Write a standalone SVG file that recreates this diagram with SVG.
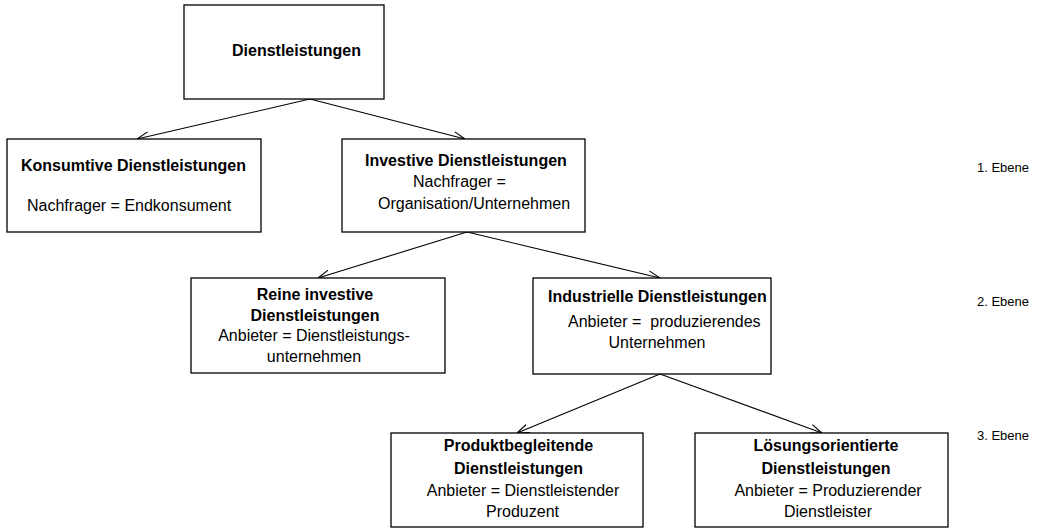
<svg xmlns="http://www.w3.org/2000/svg" width="1057" height="530" viewBox="0 0 1057 530">
<defs>
<marker id="arr" viewBox="0 0 12 10" refX="12" refY="5" markerWidth="12" markerHeight="10" markerUnits="userSpaceOnUse" orient="auto">
<path d="M0,0.5 L12,5 L0,9.5" fill="none" stroke="#000" stroke-width="1.1"/>
</marker>
<style>
.box{fill:#fff;stroke:#000;stroke-width:1.3}
.b{font-family:"Liberation Sans",Arial,sans-serif;font-size:16px;font-weight:bold;fill:#000}
.r{font-family:"Liberation Sans",Arial,sans-serif;font-size:16px;fill:#000}
.c{text-anchor:middle}
.lvl{font-family:"Liberation Sans",Arial,sans-serif;font-size:13px;fill:#000}
.con{fill:none;stroke:#000;stroke-width:1.1;marker-end:url(#arr)}
</style>
</defs>
<rect width="1057" height="530" fill="#fff"/>
<g id="connectors">
<line class="con" x1="310" y1="99" x2="137" y2="139"/>
<line class="con" x1="310" y1="99" x2="465" y2="139"/>
<line class="con" x1="467" y1="232" x2="318" y2="278"/>
<line class="con" x1="467" y1="232" x2="660" y2="278"/>
<line class="con" x1="660" y1="374" x2="517" y2="433"/>
<line class="con" x1="660" y1="374" x2="822" y2="433"/>
</g>
<g id="n-dienstleistungen">
<rect class="box" x="184" y="5" width="200" height="94"/>
<text class="b" x="232" y="56">Dienstleistungen</text>
</g>
<g id="n-konsumtive">
<rect class="box" x="7" y="139" width="254" height="93"/>
<text class="b" x="21" y="171">Konsumtive Dienstleistungen</text>
<text class="r" x="27" y="211">Nachfrager = Endkonsument</text>
</g>
<g id="n-investive">
<rect class="box" x="342" y="139" width="243" height="93"/>
<text class="b" x="365" y="166">Investive Dienstleistungen</text>
<text class="r" x="413" y="187">Nachfrager =</text>
<text class="r" x="378" y="209">Organisation/Unternehmen</text>
</g>
<g id="n-reine">
<rect class="box" x="191" y="278" width="254" height="95"/>
<text class="b c" x="315" y="300">Reine investive</text>
<text class="b c" x="315" y="321">Dienstleistungen</text>
<text class="r c" x="314" y="341">Anbieter = Dienstleistungs-</text>
<text class="r c" x="314" y="362">unternehmen</text>
</g>
<g id="n-industrielle">
<rect class="box" x="533" y="278" width="238" height="96"/>
<text class="b" x="548" y="302">Industrielle Dienstleistungen</text>
<text class="r" x="568" y="327" xml:space="preserve">Anbieter =  produzierendes</text>
<text class="r c" x="657" y="348">Unternehmen</text>
</g>
<g id="n-produkt">
<rect class="box" x="391" y="433" width="252" height="94"/>
<text class="b c" x="518.5" y="451">Produktbegleitende</text>
<text class="b c" x="518.5" y="474">Dienstleistungen</text>
<text class="r c" x="523" y="496">Anbieter = Dienstleistender</text>
<text class="r c" x="522.5" y="517">Produzent</text>
</g>
<g id="n-loesung">
<rect class="box" x="695" y="433" width="253" height="94"/>
<text class="b c" x="826" y="451">Lösungsorientierte</text>
<text class="b c" x="826" y="474">Dienstleistungen</text>
<text class="r c" x="828" y="496">Anbieter = Produzierender</text>
<text class="r c" x="828" y="517">Dienstleister</text>
</g>
<g id="levels">
<text class="lvl" x="977" y="172">1. Ebene</text>
<text class="lvl" x="977" y="306">2. Ebene</text>
<text class="lvl" x="977" y="440">3. Ebene</text>
</g>
</svg>
